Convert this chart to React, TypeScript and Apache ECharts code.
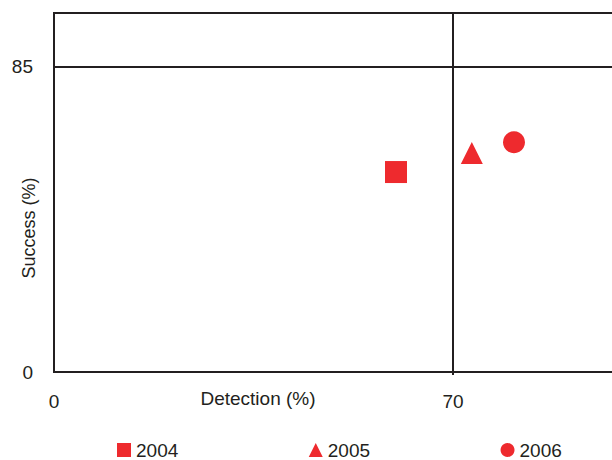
import React, { useEffect, useRef } from "react";
import * as echarts from "echarts";

const years = ["2004", "2005", "2006"];
const symbols = ["rect", "triangle", "circle"];
const detection = [60.0, 73.3, 80.7];
const success = [55.7, 61.0, 64.0];
const xTickLabels = [0, 70];
const yTickLabels = [0, 85];
const refX = 70;
const refY = 85;

const RED = "#ee2a2e";
const INK = "#231f20";
const FONT = "'Liberation Sans', Arial, Helvetica, sans-serif";

export default function App() {
  const ref = useRef<HTMLDivElement>(null);
  useEffect(() => {
    if (!ref.current) return;
    const chart = echarts.init(ref.current, null, { renderer: "svg" });
    const series: any[] = years.map((y, i) => ({
      name: y,
      type: "scatter",
      symbol: symbols[i],
      symbolSize: 22,
      itemStyle: { color: RED, opacity: 1 },
      data: [[detection[i], success[i]]],
      z: 5,
    }));
    series[0].markLine = {
      silent: true,
      symbol: ["none", "none"],
      label: { show: false },
      lineStyle: { color: INK, width: 2, type: "solid", opacity: 1 },
      data: [{ xAxis: refX }, { yAxis: refY }],
    };
    chart.setOption({
      animation: false,
      textStyle: { fontFamily: FONT },
      grid: {
        left: 54,
        top: 13,
        right: -12,
        bottom: 88,
        containLabel: false,
        outerBoundsMode: "none",
        show: true,
        borderColor: INK,
        borderWidth: 2,
        backgroundColor: "transparent",
      },
      xAxis: {
        type: "value",
        min: 0,
        max: 100,
        axisLine: { show: true, lineStyle: { color: INK, width: 2 } },
        axisTick: { show: true, customValues: [refX], length: 3, lineStyle: { color: INK, width: 2 } },
        splitLine: { show: false },
        axisLabel: {
          customValues: xTickLabels,
          color: INK,
          fontSize: 19,
          margin: 20,
          fontFamily: FONT,
        },
      },
      yAxis: {
        type: "value",
        min: 0,
        max: 100,
        axisLine: { show: true, lineStyle: { color: INK, width: 2 } },
        axisTick: { show: false },
        splitLine: { show: false },
        axisLabel: {
          customValues: yTickLabels,
          color: INK,
          fontSize: 19,
          margin: 21,
          fontFamily: FONT,
        },
      },
      legend: {
        data: years,
        left: 117,
        top: 440,
        padding: 0,
        itemWidth: 14,
        itemHeight: 14,
        itemGap: 130.5,
        textStyle: { color: INK, fontSize: 19, lineHeight: 20, fontFamily: FONT },
      },
      graphic: [
        {
          type: "text",
          x: 258,
          y: 398,
          style: {
            text: "Detection (%)",
            fill: INK,
            font: `19px ${FONT}`,
            align: "center",
            verticalAlign: "middle",
          },
        },
        {
          type: "text",
          x: 29,
          y: 228,
          rotation: Math.PI / 2,
          style: {
            text: "Success (%)",
            fill: INK,
            font: `18px ${FONT}`,
            align: "center",
            verticalAlign: "middle",
          },
        },
      ],
      series,
    });
    return () => chart.dispose();
  }, []);
  return (
    <div
      ref={ref}
      style={{ position: "absolute", left: 0, top: 0, width: 612, height: 460, background: "#fff" }}
    />
  );
}
